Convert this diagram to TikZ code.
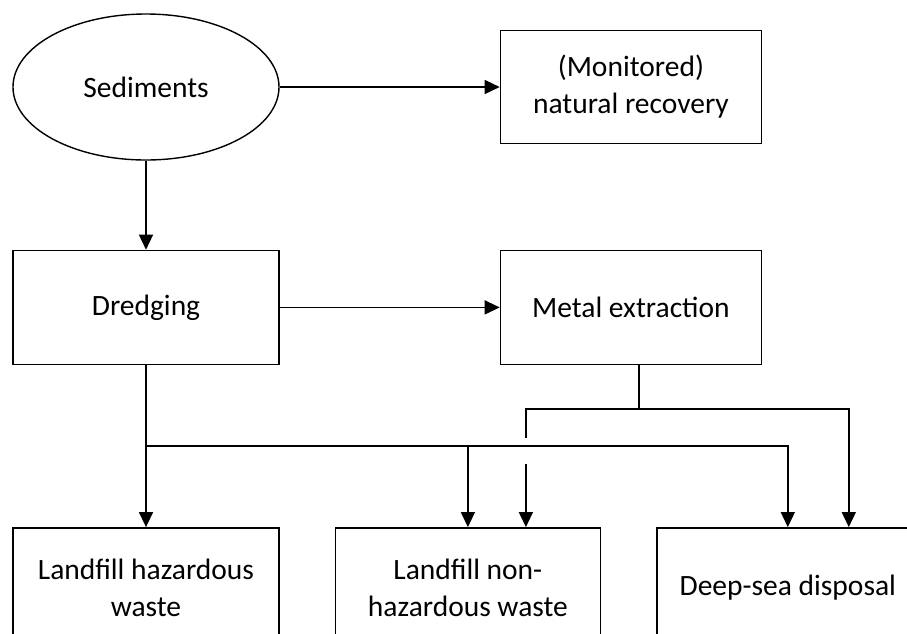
\documentclass[tikz,border=0pt]{standalone}
\usepackage{fontspec}
\setmainfont{Carlito}
\usetikzlibrary{positioning,shapes.geometric,arrows.meta}

\begin{document}
\begin{tikzpicture}[x=1pt,y=-1pt,
    box/.style={draw,rectangle,line width=1.4pt,minimum width=266pt,minimum height=114pt,
      align=center,font=\fontsize{29.5}{37}\selectfont},
    line/.style={line width=1.4pt},
    flow/.style={line width=1.4pt,-{Triangle[length=15pt,width=14pt]}}]
  \useasboundingbox (0,0) rectangle (907,633);
  \clip (0,0) rectangle (907,633);

  \node[box,ellipse,minimum height=146pt] (sed) at (146,87) {Sediments};
  \node[box,minimum width=261pt,minimum height=113pt,right=220pt of sed] (mnr) {(Monitored)\\natural recovery};
  \node[box,below=89pt of sed] (dre) {Dredging};
  \node[box,minimum width=261pt,right=220pt of dre] (met) {Metal extraction};
  \node[box,minimum height=120pt,below=162pt of dre] (lhw) {Landfill hazardous\\waste};
  \node[box,minimum width=265pt,minimum height=120pt,right=55pt of lhw] (lnw) {Landfill non-\\hazardous waste};
  \node[box,minimum width=262pt,minimum height=120pt,right=55pt of lnw] (dsd) {Deep-sea disposal};

  \coordinate[below=81pt of dre] (b1);
  \coordinate[below=44pt of met,xshift=8pt] (b2);
  \coordinate (lnwin) at ([xshift=58pt]lnw.north);
  \coordinate (dsdin) at ([xshift=61pt]dsd.north);

  \draw[flow] (sed) -- (mnr);
  \draw[flow] (sed) -- (dre);
  \draw[flow] (dre.east) -- (dre.east -| met.west);
  \draw[flow] (dre) -- (lhw);
  \draw[flow] (b1) -| (lnw.north);
  \draw[flow] (b1) -| (dsd.north);
  \draw[line] (met.south -| b2) -- (b2) -| ([yshift=8pt]lnwin |- b1);
  \draw[flow] ([yshift=-18pt]lnwin |- b1) -- (lnwin);
  \draw[flow] (b2) -| (dsdin);
\end{tikzpicture}
\end{document}
